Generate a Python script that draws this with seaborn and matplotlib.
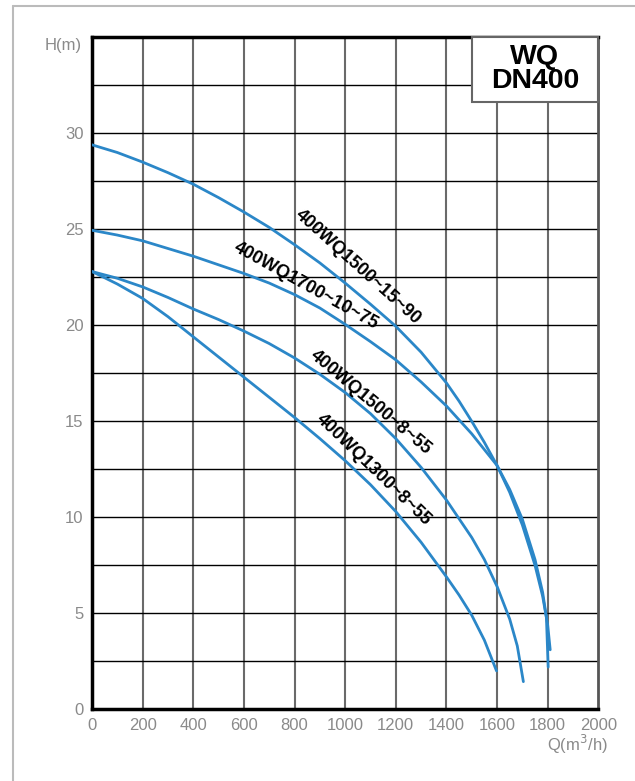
import matplotlib
matplotlib.use("Agg")
import matplotlib.pyplot as plt
import seaborn as sns
import pandas as pd
from matplotlib.patches import Rectangle
from matplotlib.lines import Line2D

# ---- data ----
q_a = [0, 100, 200, 300, 400, 500, 600, 700, 800, 900, 1000, 1100, 1200, 1300, 1400,
       1450, 1500, 1550, 1600, 1650, 1700, 1750, 1780, 1800, 1810]
h_a = [29.4, 29.0, 28.5, 27.95, 27.35, 26.65, 25.9, 25.1, 24.2, 23.25, 22.2, 21.1, 19.95,
       18.6, 17.0, 16.05, 15.0, 13.9, 12.7, 11.3, 9.6, 7.5, 5.9, 4.4, 3.1]

q_b = [0, 100, 200, 300, 400, 500, 600, 700, 800, 900, 1000, 1100, 1200, 1300, 1400,
       1500, 1600, 1650, 1700, 1750, 1780, 1795, 1802]
h_b = [24.95, 24.7, 24.4, 24.0, 23.6, 23.15, 22.7, 22.2, 21.6, 20.9, 20.05, 19.15, 18.2,
       17.05, 15.8, 14.35, 12.7, 11.45, 9.9, 7.8, 6.1, 4.8, 2.2]

q_c = [0, 100, 200, 300, 400, 500, 600, 700, 800, 900, 1000, 1100, 1200, 1300, 1400,
       1500, 1550, 1600, 1650, 1680, 1704]
h_c = [22.8, 22.45, 22.0, 21.45, 20.85, 20.3, 19.7, 19.05, 18.3, 17.45, 16.5, 15.4, 14.1,
       12.6, 10.9, 8.95, 7.8, 6.4, 4.7, 3.3, 1.44]

q_d = [0, 100, 200, 300, 400, 500, 600, 700, 800, 900, 1000, 1100, 1200, 1300, 1400,
       1450, 1500, 1550, 1598]
h_d = [22.8, 22.15, 21.4, 20.45, 19.4, 18.35, 17.3, 16.25, 15.2, 14.1, 12.95, 11.7, 10.3,
       8.7, 6.9, 5.95, 4.9, 3.6, 2.0]

models = ["400WQ1500~15~90", "400WQ1700~10~75", "400WQ1500~8~55", "400WQ1300~8~55"]
label_q = [1049, 844, 1101, 1111]
label_h = [23.05, 22.06, 16.0, 12.46]
label_rot = [-42, -29, -40, -44]

x_ticks = list(range(0, 2001, 200))
y_ticks = [0, 5, 10, 15, 20, 25, 30]
title_text = "WQ\nDN400"

# ---- build frame ----
frames = []
for name, q, h in zip(models, [q_a, q_b, q_c, q_d], [h_a, h_b, h_c, h_d]):
    frames.append(pd.DataFrame({"Q": q, "H": h, "model": name}))
df = pd.concat(frames, ignore_index=True)

sns.set_style("white")
plt.rcParams["font.family"] = ["Liberation Sans", "DejaVu Sans"]

fig = plt.figure(figsize=(6.35, 7.81), dpi=100)
ax = fig.add_axes([92 / 635, 71.7 / 781, 506.3 / 635, 672 / 781])

line_color = "#2b87c8"
sns.lineplot(data=df, x="Q", y="H", hue="model", units="model", estimator=None,
             palette={m: line_color for m in models}, linewidth=2.0,
             legend=False, ax=ax, zorder=3)

ax.set_xlim(0, 2000)
ax.set_ylim(0, 35)
ax.set_xticks(x_ticks)
ax.set_yticks(y_ticks)
ax.set_xticklabels([str(v) for v in x_ticks])
ax.set_yticklabels([str(v) for v in y_ticks])
ax.tick_params(axis="both", length=0, labelsize=12, labelcolor="#8a8a8a", pad=6)
ax.set_xlabel("")
ax.set_ylabel("")

# grid
for v in range(200, 2000, 200):
    ax.axvline(v, color="#6a6a6a", lw=1.5, zorder=1)
for k in range(1, 14):
    ax.axhline(k * 2.5, color="black", lw=1.0, zorder=1)

for side in ["left", "bottom", "top"]:
    ax.spines[side].set_color("black")
    ax.spines[side].set_linewidth(2.5)
ax.spines["right"].set_color("#555555")
ax.spines["right"].set_linewidth(2.0)

# curve labels
for name, lq, lh, rot in zip(models, label_q, label_h, label_rot):
    ax.text(lq, lh, name, rotation=rot, rotation_mode="anchor", ha="center",
            va="center", fontsize=13, fontweight="bold", color="black", zorder=4)

# title box
ax.add_patch(Rectangle((0.7505, 0.9037), 0.2495, 0.0963, transform=ax.transAxes,
                       facecolor="white", edgecolor="#666666", lw=1.5, zorder=5,
                       clip_on=False))
ax.text(0.875, 0.953, title_text, transform=ax.transAxes, ha="center", va="center",
        fontsize=20.5, fontweight="bold", color="black", linespacing=0.92, zorder=6)

# axis labels
ax.text(-0.02, 0.9885, "H(m)", transform=ax.transAxes, ha="right", va="center",
        fontsize=12, color="#8a8a8a")
ax.text(0.958, -0.053, "Q(m$^3$/h)", transform=ax.transAxes, ha="center", va="center",
        fontsize=12, color="#8a8a8a")

# page frame
fig.add_artist(Line2D([13 / 635, 13 / 635], [0, 1 - 6 / 781], color="#bbbbbb", lw=1.5))
fig.add_artist(Line2D([13 / 635, 1], [1 - 6 / 781, 1 - 6 / 781], color="#bbbbbb", lw=1.5))

fig.savefig("out.png", dpi=100)
